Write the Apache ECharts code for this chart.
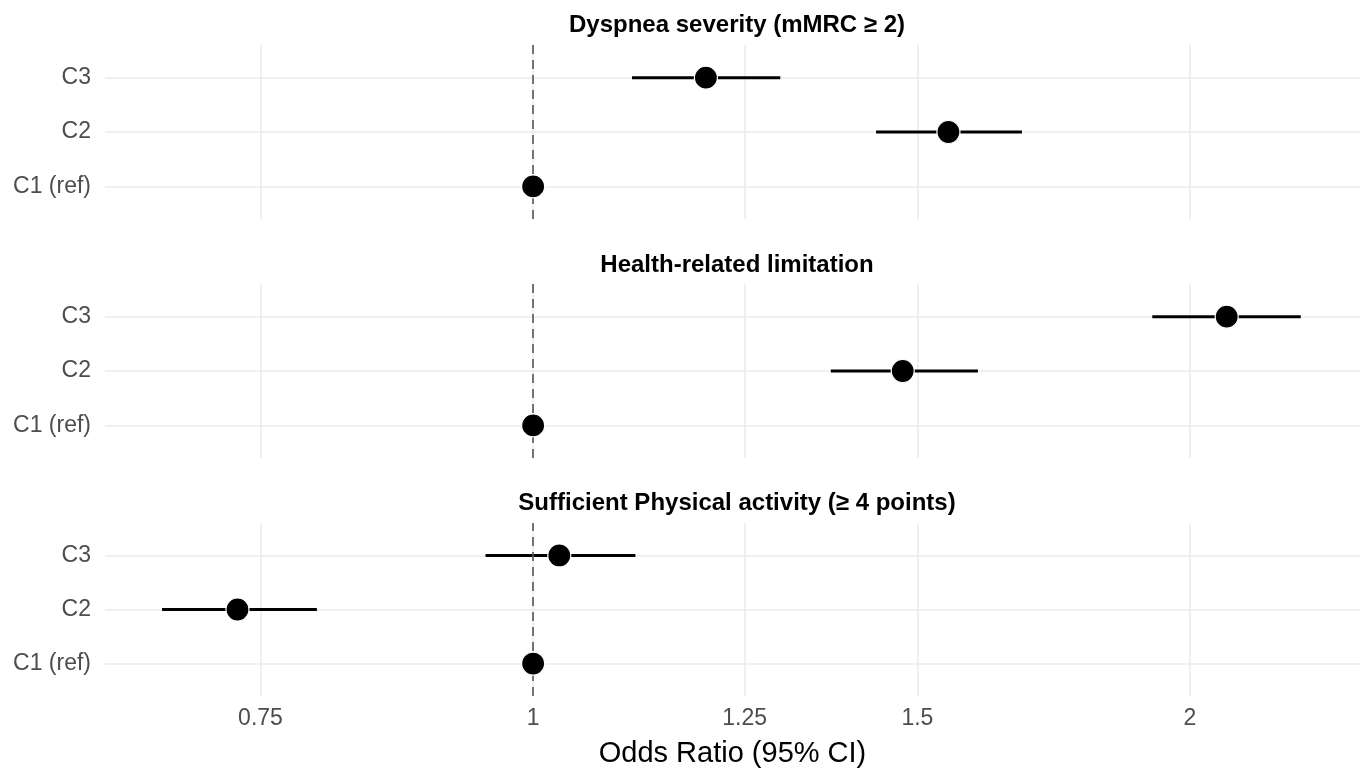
<!DOCTYPE html>
<html>
<head>
<meta charset="utf-8">
<script src="https://cdn.jsdelivr.net/npm/echarts@6/dist/echarts.min.js"></script>
<style>
  html, body { margin: 0; padding: 0; background: #ffffff; }
  #chart { width: 1363px; height: 769px; }
</style>
</head>
<body>
<div id="chart"></div>
<script>
// ---- data ----
const categories = ['C1 (ref)', 'C2', 'C3'];
const panelTitles = ['Dyspnea severity (mMRC \u2265 2)', 'Health-related limitation', 'Sufficient Physical activity (\u2265 4 points)'];
const xTickValues = [0.75, 1, 1.25, 1.5, 2];
const xAxisTitle = 'Odds Ratio (95% CI)';

// order: C1 (ref), C2, C3
const dyspneaOR    = [1, 1.550, 1.200];
const dyspneaLower = [1, 1.436, 1.110];
const dyspneaUpper = [1, 1.675, 1.298];

const healthOR    = [1, 1.477, 2.079];
const healthLower = [1, 1.369, 1.922];
const healthUpper = [1, 1.599, 2.248];

const activityOR    = [1, 0.732, 1.028];
const activityLower = [1, 0.676, 0.951];
const activityUpper = [1, 0.796, 1.114];

const panels = [
  { or: dyspneaOR, lo: dyspneaLower, hi: dyspneaUpper },
  { or: healthOR, lo: healthLower, hi: healthUpper },
  { or: activityOR, lo: activityLower, hi: activityUpper }
];

// ---- layout ----
const FONT = "'Liberation Sans', Arial, Helvetica, sans-serif";
const gridLeft = 105, gridRight = 3, gridHeight = 174;
const gridTops = [45, 284, 523];
const titleCenters = [22, 262, 500];
const xMin = 0.6365, xMax = 2.393;
const yTickValues = [1, 2, 3];

const chart = echarts.init(document.getElementById('chart'), null, { renderer: 'canvas' });

const grids = [], xAxes = [], yAxes = [], series = [], titles = [];
panels.forEach((p, i) => {
  grids.push({ left: gridLeft, right: gridRight, top: gridTops[i], height: gridHeight, containLabel: false });
  titles.push({
    text: panelTitles[i],
    left: 732, top: titleCenters[i] - 14, textAlign: 'center',
    textStyle: { fontFamily: FONT, fontWeight: 'bold', fontSize: 24, color: '#000' }
  });
  const isLast = i === panels.length - 1;
  xAxes.push({
    type: 'log', logBase: 10, gridIndex: i, min: xMin, max: xMax,
    axisLine: { show: false },
    axisTick: { show: false, customValues: xTickValues },
    axisLabel: {
      show: isLast, customValues: xTickValues, margin: 11,
      fontFamily: FONT, fontSize: 23, color: '#4d4d4d',
      formatter: v => String(+v.toFixed(2))
    },
    splitLine: { show: true, lineStyle: { color: '#ebebeb', width: 1.6 } },
    name: isLast ? xAxisTitle : '', nameLocation: 'middle', nameGap: 43,
    nameTextStyle: { fontFamily: FONT, fontSize: 29, color: '#000' }
  });
  yAxes.push({
    type: 'value', gridIndex: i, min: 0.4, max: 3.6,
    axisLine: { show: false },
    axisTick: { show: false, customValues: yTickValues },
    axisLabel: {
      customValues: yTickValues, margin: 14,
      fontFamily: FONT, fontSize: 23, color: '#4d4d4d',
      formatter: v => categories[Math.round(v) - 1]
    },
    splitLine: { show: true, lineStyle: { color: '#ebebeb', width: 1.6 } }
  });
  // CI bars
  series.push({
    type: 'custom', xAxisIndex: i, yAxisIndex: i, z: 2, silent: true,
    data: categories.map((c, k) => [p.lo[k], p.hi[k], k + 1]),
    encode: { x: [0, 1], y: 2 },
    renderItem: (params, api) => {
      const a = api.coord([api.value(0), api.value(2)]);
      const b = api.coord([api.value(1), api.value(2)]);
      return { type: 'line', shape: { x1: a[0], y1: a[1], x2: b[0], y2: b[1] },
               style: { stroke: '#000', lineWidth: 3 } };
    },
    markLine: {
      silent: true, symbol: ['none', 'none'], z: 3,
      label: { show: false },
      lineStyle: { color: '#555', type: [9, 6], width: 1.6 },
      data: [{ xAxis: 1 }]
    }
  });
  // points
  series.push({
    type: 'scatter', xAxisIndex: i, yAxisIndex: i, z: 10, silent: true,
    symbol: 'circle', symbolSize: 23,
    itemStyle: { color: '#000', borderColor: '#fff', borderWidth: 1.2, opacity: 1 },
    data: categories.map((c, k) => [p.or[k], k + 1])
  });
});

chart.setOption({
  backgroundColor: '#fff',
  animation: false,
  title: titles,
  grid: grids,
  xAxis: xAxes,
  yAxis: yAxes,
  series: series
});
</script>
</body>
</html>
